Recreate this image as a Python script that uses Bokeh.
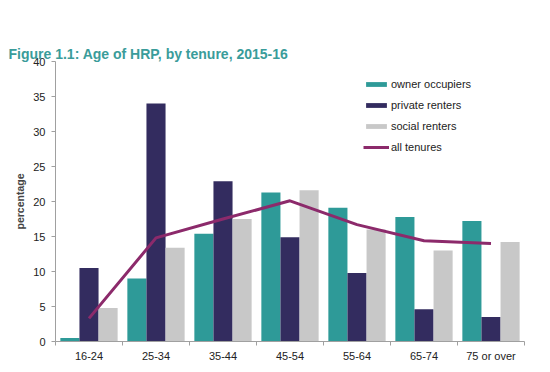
from bokeh.plotting import figure
from bokeh.models import Range1d, FixedTicker, ColumnDataSource, Legend, LegendItem, Title
from bokeh.embed import file_html
from bokeh.resources import INLINE

categories = ["16-24", "25-34", "35-44", "45-54", "55-64", "65-74", "75 or over"]
owner_occupiers = [0.5, 9.0, 15.4, 21.3, 19.1, 17.8, 17.2]
private_renters = [10.5, 34.0, 22.9, 14.9, 9.8, 4.6, 3.5]
social_renters = [4.8, 13.4, 17.5, 21.6, 16.0, 13.0, 14.2]
all_tenures = [3.3, 14.8, 17.5, 20.1, 16.7, 14.4, 14.0]
y_ticks = [0, 5, 10, 15, 20, 25, 30, 35, 40]
title_text = "Figure 1.1: Age of HRP, by tenure, 2015-16"

FONT = "Liberation Sans"
bw = 0.285
centers = [i + 0.5 for i in range(len(categories))]

src = ColumnDataSource(dict(
    xo=[c - bw for c in centers], xp=centers, xs=[c + bw for c in centers],
    owner=owner_occupiers, private=private_renters, social=social_renters, all=all_tenures,
))

p = figure(width=540, height=364, output_backend="svg", toolbar_location=None,
           x_range=Range1d(0, len(categories)), y_range=Range1d(0, 40),
           min_border_left=55, min_border_right=16, min_border_top=61, min_border_bottom=21)

p.title.text = ""

main_title = Title(text=title_text, text_font=FONT, text_font_size="14px",
                   text_color="#3A9C9A", text_font_style="bold", offset=-47, standoff=0)
p.add_layout(main_title, "above")

# transparent spacer between the frame and the title
spacer = Title(text=" ", text_font=FONT, text_font_size="14px", text_alpha=0, standoff=18)
p.add_layout(spacer, "above")

r1 = p.vbar(x="xo", top="owner", width=bw, source=src, fill_color="#2E9A98", line_color=None)
r2 = p.vbar(x="xp", top="private", width=bw, source=src, fill_color="#332C5F", line_color=None)
r3 = p.vbar(x="xs", top="social", width=bw, source=src, fill_color="#C8C8C8", line_color=None)
r4 = p.line(x="xp", y="all", source=src, line_color="#8C2A6B", line_width=3)

p.xgrid.visible = False
p.ygrid.visible = False
p.outline_line_color = None

xa = p.xaxis[0]
xa.ticker = FixedTicker(ticks=centers, minor_ticks=list(range(len(categories) + 1)))
xa.major_label_overrides = {c: lab for c, lab in zip(centers, categories)}
xa.major_tick_out = 0
xa.major_tick_in = 0
xa.minor_tick_out = 4
xa.minor_tick_in = 0
xa.minor_tick_line_color = "#A0A0A0"
xa.axis_line_color = "#A0A0A0"
xa.major_label_text_font = FONT
xa.major_label_text_font_size = "11px"
xa.major_label_text_color = "#222222"
xa.major_label_standoff = 4

ya = p.yaxis[0]
ya.ticker = FixedTicker(ticks=y_ticks)
ya.minor_tick_line_color = None
ya.major_tick_out = 4
ya.major_tick_in = 0
ya.major_tick_line_color = "#A0A0A0"
ya.axis_line_color = "#A0A0A0"
ya.major_label_text_font = FONT
ya.major_label_text_font_size = "11px"
ya.major_label_text_color = "#222222"
ya.major_label_standoff = 6
ya.axis_label = "percentage"
ya.axis_label_text_font = FONT
ya.axis_label_text_font_size = "10.5px"
ya.axis_label_text_font_style = "bold"
ya.axis_label_standoff = 4

legend = Legend(items=[
    LegendItem(label="owner occupiers", renderers=[r1]),
    LegendItem(label="private renters", renderers=[r2]),
    LegendItem(label="social renters", renderers=[r3]),
    LegendItem(label="all tenures", renderers=[r4]),
], location=(308, 187))
legend.glyph_width = 26
legend.glyph_height = 6
legend.label_height = 15
legend.spacing = 6
legend.padding = 0
legend.margin = 0
legend.label_standoff = 2
legend.border_line_color = None
legend.background_fill_alpha = 0
legend.label_text_font = FONT
legend.label_text_font_size = "11px"
legend.label_text_color = "#222222"
p.add_layout(legend, "center")

open("out.html", "w").write(file_html(p, INLINE))
